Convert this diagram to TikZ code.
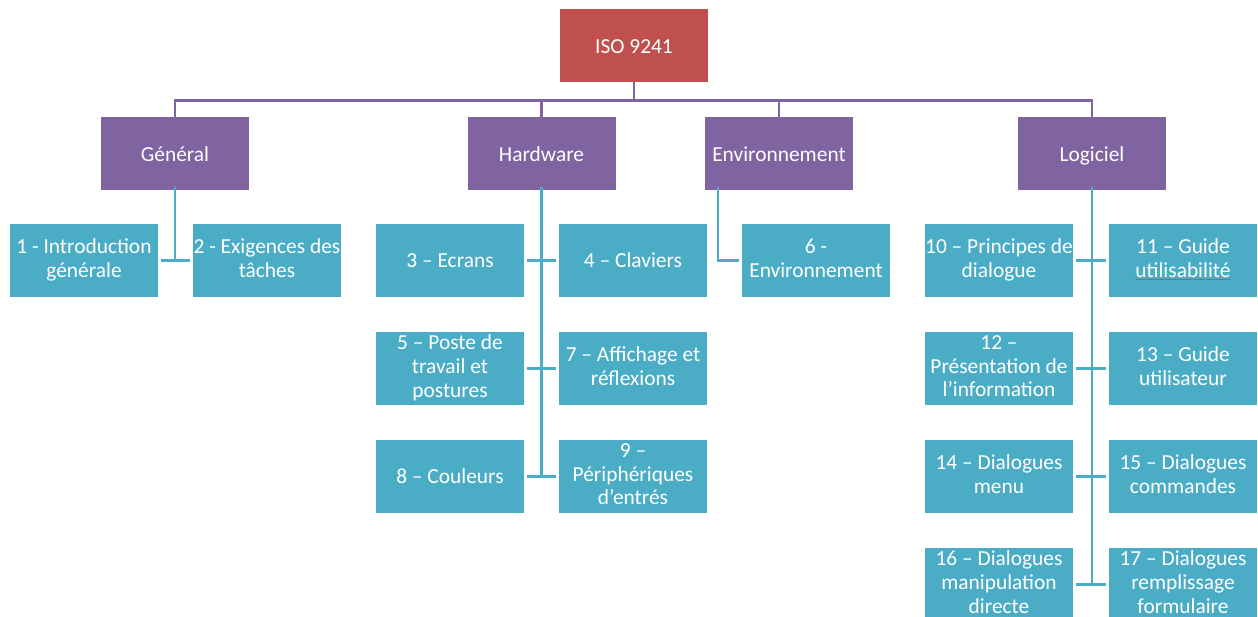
\documentclass[tikz,border=0pt]{standalone}
\usepackage{fontspec}
\setmainfont{Carlito}
\definecolor{isored}{HTML}{C0504D}
\definecolor{catpurple}{HTML}{8064A2}
\definecolor{leafteal}{HTML}{4BACC6}
\definecolor{spellred}{HTML}{D05050}
\newsavebox\spellbox
\newcommand\spellul[1]{\sbox\spellbox{#1}\rlap{\usebox\spellbox}{\color{spellred}\rule[-2.5pt]{\wd\spellbox}{0.7pt}}}
\newcommand\boxstrut{\rule[-4.7pt]{0pt}{23.8pt}}
\newcommand\tallstrut{\rule[-4.7pt]{0pt}{28.4pt}}
\begin{document}
\begin{tikzpicture}[x=1pt,y=-1pt,
  box/.style={minimum width=148pt,minimum height=73pt,inner sep=0pt,outer sep=0pt,
    text=white,align=center,
    font=\fontsize{21.4}{23.8}\selectfont,
    execute at begin node=\boxstrut, execute at end node=\boxstrut},
  multi/.style={execute at begin node=\tallstrut},
  rootbox/.style={box,fill=isored},
  catbox/.style={box,fill=catpurple},
  leafbox/.style={box,fill=leafteal},
  pline/.style={draw=catpurple,line width=2.5pt},
  tline/.style={draw=leafteal,line width=2.5pt}]
\useasboundingbox (0,0) rectangle (1258,617);
% root
\node[rootbox] (iso) at (634,46) {ISO 9241};
% categories
\node[catbox] (gen) at (175,154) {Général};
\node[catbox] (hw)  at (541.5,154) {Hardware};
\node[catbox] (env) at (779,154) {Environnement};
\node[catbox] (log) at (1092,154) {Logiciel};
% leaves
\node[leafbox,multi] (c1) at (84,260.5) {1 - Introduction\\générale};
\node[leafbox,multi] (c2) at (267,260.5) {2 - Exigences des\\tâches};
\node[leafbox] (c3) at (450,260.5) {3 – Ecrans};
\node[leafbox] (c4) at (633,260.5) {4 – Claviers};
\node[leafbox,multi] (c5) at (450,368.5) {5 – Poste de\\travail et\\postures};
\node[leafbox,multi] (c7) at (633,368.5) {7 – Affichage et\\réflexions};
\node[leafbox] (c8) at (450,476.5) {8 – Couleurs};
\node[leafbox,multi] (c9) at (633,476.5) {9 –\\Périphériques\\d’entrés};
\node[leafbox,multi] (c6) at (816,260.5) {6 -\\Environnement};
\node[leafbox,multi] (c10) at (999,260.5) {10 – Principes de\\dialogue};
\node[leafbox,multi] (c11) at (1183,260.5) {11 – Guide\\\spellul{utilisabilité}};
\node[leafbox,multi] (c12) at (999,368.5) {12 –\\Présentation de\\l’information};
\node[leafbox,multi] (c13) at (1183,368.5) {13 – Guide\\utilisateur};
\node[leafbox,multi] (c14) at (999,476.5) {14 – Dialogues\\menu};
\node[leafbox,multi] (c15) at (1183,476.5) {15 – Dialogues\\commandes};
\node[leafbox,multi] (c16) at (999,584.5) {16 – Dialogues\\manipulation\\directe};
\node[leafbox,multi] (c17) at (1183,584.5) {17 – Dialogues\\remplissage\\formulaire};
% root to categories
\draw[pline] (iso.south) -- ++(0,18) -| (gen.north);
\draw[pline] (iso.south) -- ++(0,18) -| (hw.north);
\draw[pline] (iso.south) -- ++(0,18) -| (env.north);
\draw[pline] (iso.south) -- ++(0,18) -| (log.north);
% Général
\draw[tline] ([yshift=3pt]gen.south) -- (gen.south |- c1.east);
\draw[tline,shorten <=3pt,shorten >=3pt] (c1.east) -- (c2.west);
% Hardware
\draw[tline] ([yshift=3pt]hw.south) -- (hw.south |- c8.east);
\draw[tline,shorten <=3pt,shorten >=3pt] (c3.east) -- (c4.west);
\draw[tline,shorten <=3pt,shorten >=3pt] (c5.east) -- (c7.west);
\draw[tline,shorten <=3pt,shorten >=3pt] (c8.east) -- (c9.west);
% Environnement
\draw[tline,shorten >=3pt] ([xshift=13pt,yshift=3pt]env.south west) |- (c6.west);
% Logiciel
\draw[tline] ([yshift=3pt]log.south) -- (log.south |- c16.east);
\draw[tline,shorten <=3pt,shorten >=3pt] (c10.east) -- (c11.west);
\draw[tline,shorten <=3pt,shorten >=3pt] (c12.east) -- (c13.west);
\draw[tline,shorten <=3pt,shorten >=3pt] (c14.east) -- (c15.west);
\draw[tline,shorten <=3pt,shorten >=3pt] (c16.east) -- (c17.west);
\end{tikzpicture}
\end{document}
